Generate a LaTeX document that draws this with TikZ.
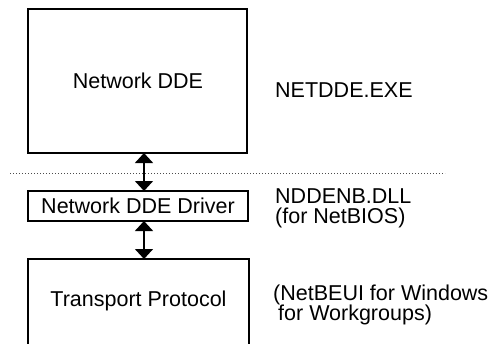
\documentclass[tikz,border=0pt]{standalone}
\usepackage{fontspec}
\setmainfont{Liberation Sans}
\usetikzlibrary{arrows.meta}
\begin{document}
\begin{tikzpicture}[x=1pt,y=-1pt,
  box/.style={draw,line width=1.6pt},
  lbl/.style={inner sep=0pt,anchor=base west,font=\fontsize{21.5}{22}\selectfont},
  ctr/.style={inner sep=0pt,font=\fontsize{21.5}{22}\selectfont},
  link/.style={line width=1.6pt,{Triangle[width=18pt,length=10pt]}-{Triangle[width=18pt,length=10pt]}},
  sep/.style={line width=0.8pt,black!70,dash pattern=on 0.8pt off 2.2pt}]
\useasboundingbox (0,0) rectangle (497,343);
% boxes
\coordinate (tnw) at (28,9);
\coordinate (tse) at (247,153);
\draw[box] (tnw) rectangle (tse);
\node[ctr] (ndde) at (138,81) {Network DDE};
\coordinate (dnw) at (28,191);
\coordinate (dse) at (248,221);
\draw[box] (dnw) rectangle (dse);
\node[ctr] (drv) at (138,206) {Network DDE Driver};
\coordinate (bnw) at (28,259);
\coordinate (bse) at (249,360);
\draw[box] (bnw) rectangle (bse);
\node[ctr] (tp) at (138.5,301) {Transport Protocol};
% connectors
\coordinate (a1) at (144,153);
\coordinate (a2) at (144,191);
\coordinate (a3) at (144,221);
\coordinate (a4) at (144,259);
\draw[link] (a1) -- (a2);
\draw[link] (a3) -- (a4);
% separator
\coordinate (s1) at (10,173);
\coordinate (s2) at (445,173);
\draw[sep] (s1) -- (s2);
% labels
\node[lbl] (exe) at (275,97) {NETDDE.EXE};
\node[lbl] (dll) at (275,203) {NDDENB.DLL};
\node[lbl] (nb) at (275,223) {(for NetBIOS)};
\node[lbl] (nbe) at (273,300.5) {(NetBEUI for Windows};
\node[lbl] (wg) at (278,320.5) {for Workgroups)};
\end{tikzpicture}
\end{document}
